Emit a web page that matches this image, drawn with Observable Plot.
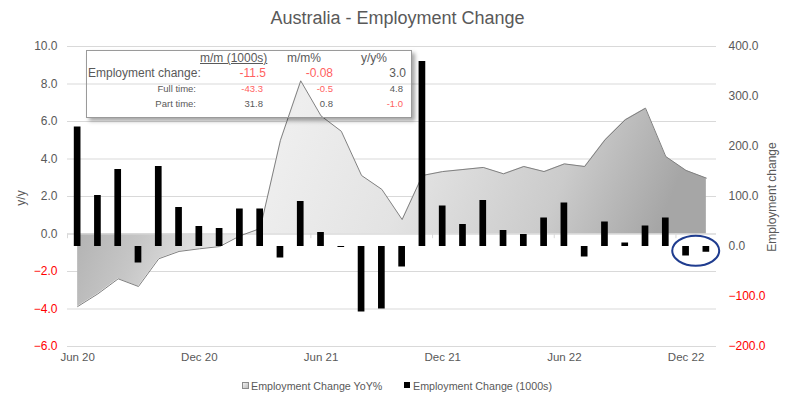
<!DOCTYPE html>
<html><head><meta charset="utf-8">
<script src="https://cdn.jsdelivr.net/npm/d3@7"></script>
<script src="https://cdn.jsdelivr.net/npm/@observablehq/plot@0.6"></script>
<style>
body{margin:0;background:#fff;}
#chart{position:relative;width:795px;height:405px;overflow:hidden;font-family:"Liberation Sans",Arial,sans-serif;color:#595959;background:#fff;}
#chart svg{position:absolute;left:0;top:0;}
.abs{position:absolute;white-space:nowrap;line-height:1;}
</style></head><body>
<div id="chart"></div>
<script>
// ---------- data ----------
const months = ["Jun 20","Jul 20","Aug 20","Sep 20","Oct 20","Nov 20","Dec 20","Jan 21","Feb 21","Mar 21","Apr 21","May 21","Jun 21","Jul 21","Aug 21","Sep 21","Oct 21","Nov 21","Dec 21","Jan 22","Feb 22","Mar 22","Apr 22","May 22","Jun 22","Jul 22","Aug 22","Sep 22","Oct 22","Nov 22","Dec 22","Jan 23"];
const yoyPct = [-3.87,-3.19,-2.39,-2.80,-1.32,-0.93,-0.79,-0.67,-0.10,0.29,5.0,8.17,6.3,5.48,3.12,2.38,0.77,3.12,3.33,3.44,3.55,3.21,3.6,3.33,3.74,3.6,5.02,6.09,6.71,4.13,3.39,2.98];
const empChange = [239,102,154,-33,160,78,40,36,75,75,-23,90,28,-2,-131,-125,-41,370,81,44,92,32,24,57,87,-21,49,7,41,57,-19,-11.5];
const xTickLabels = ["Jun 20","Dec 20","Jun 21","Dec 21","Jun 22","Dec 22"];
const leftTicksPos = [0,2,4,6,8,10];
const leftTicksNeg = [-2,-4,-6];
const rightTicksPos = [0,100,200,300,400];
const rightTicksNeg = [-100,-200];
const leftDomain = [-6,10];
const rightDomain = [-200,400];
const tableRows = ["Employment change:","Full time:","Part time:"];
const tableHeaders = ["m/m (1000s)","m/m%","y/y%"];
const tableMM = ["-11.5","-43.3","31.8"];
const tableMMPct = ["-0.08","-0.5","0.8"];
const tableYY = ["3.0","4.8","-1.0"];
const titleText = "Australia - Employment Change";
const leftTitle = "y/y";
const rightTitle = "Employment change";
const legendLabels = ["Employment Change YoY%","Employment Change (1000s)"];

// ---------- build ----------
const data = months.map((m,i)=>({i, month:m, yoy:yoyPct[i], chg:empChange[i]}));
const toLeft = d3.scaleLinear().domain(rightDomain).range(leftDomain);
const fmt = d3.format(".1f");
const GRAY = "#595959", RED = "#ff0000";
const FONT = '"Liberation Sans",Arial,sans-serif';

const plot = Plot.plot({
  width:795, height:405,
  marginTop:46, marginBottom:59, marginLeft:67, marginRight:79,
  x:{type:"linear", domain:[-0.5, months.length-0.5]},
  y:{domain:leftDomain},
  style:{background:"transparent", fontFamily:FONT, fontSize:"12px", color:GRAY},
  marks:[
    Plot.gridY(leftTicksPos.concat(leftTicksNeg), {stroke:"#d9d9d9", strokeOpacity:1}),
    Plot.areaY(data, {x:"i", y:"yoy", fill:"url(#yoyGrad)", fillOpacity:1}),
    Plot.ruleY([0], {stroke:"#d9d9d9", strokeOpacity:1}),
    Plot.ruleX(xTickLabels.map(l=>months.indexOf(l)-0.5), {y1:0, y2:-0.25, stroke:"#d9d9d9"}),
    Plot.lineY(data, {x:"i", y:"yoy", stroke:"#808080", strokeWidth:1}),
    Plot.rect(data, {x1:d=>d.i-0.5, x2:d=>d.i+0.5, y1:()=>toLeft(0), y2:d=>toLeft(d.chg), fill:"#000", insetLeft:6.8, insetRight:6.8}),
    Plot.axisX(xTickLabels.map(l=>months.indexOf(l)), {tickSize:0, tickPadding:6, tickFormat:i=>months[i], fontSize:11.5, fill:GRAY, label:null}),
    Plot.axisY(leftTicksPos, {anchor:"left", tickSize:0, tickPadding:10, tickFormat:fmt, fill:GRAY, fontSize:12, label:null}),
    Plot.axisY(leftTicksNeg, {anchor:"left", tickSize:0, tickPadding:10, tickFormat:fmt, fill:RED, fontSize:12, label:null}),
    Plot.axisY(rightTicksPos.map(v=>toLeft(v)), {anchor:"right", tickSize:0, tickPadding:12, tickFormat:d=>fmt(toLeft.invert(d)), fill:GRAY, fontSize:12, label:null}),
    Plot.axisY(rightTicksNeg.map(v=>toLeft(v)), {anchor:"right", tickSize:0, tickPadding:12, tickFormat:d=>fmt(toLeft.invert(d)), fill:RED, fontSize:12, label:null})
  ]
});

const svg = d3.select(plot);
const defs = svg.insert("defs", ":first-child");
const g = defs.append("linearGradient").attr("id","yoyGrad").attr("x1","0").attr("y1","0").attr("x2","1").attr("y2","0.15");
[["0%","#a0a0a0"],["20%","#c6c6c6"],["28%","#dcdcdc"],["36%","#eeeeee"],["58%","#e3e3e3"],["82%","#cbcbcb"],["100%","#a6a6a6"]]
  .forEach(([o,c])=>g.append("stop").attr("offset",o).attr("stop-color",c));

// annotation ellipse around the last two bars, placed through the plot's scales
const sx = plot.scale("x"), sy = plot.scale("y");
const lastTwo = empChange.slice(-2);
svg.append("ellipse")
  .attr("cx", (sx.apply(months.length-2)+sx.apply(months.length-1))/2)
  .attr("cy", sy.apply(toLeft(d3.min(lastTwo)/2)))
  .attr("rx", 23.5).attr("ry", 15)
  .attr("fill","none").attr("stroke","#1f3c8f").attr("stroke-width",2);

// axis titles
svg.append("text").attr("transform","translate(21,198) rotate(-90)")
  .attr("text-anchor","middle").attr("dominant-baseline","central")
  .attr("fill",GRAY).style("font-size","12px").style("font-family",FONT).text(leftTitle);
svg.append("text").attr("transform","translate(772,197) rotate(-90)")
  .attr("text-anchor","middle").attr("dominant-baseline","central")
  .attr("fill",GRAY).style("font-size","12px").style("font-family",FONT).text(rightTitle);

const chart = document.getElementById("chart");
chart.appendChild(plot);

function div(text, css){
  const d = document.createElement("div");
  d.className = "abs"; d.textContent = text; d.style.cssText += css;
  chart.appendChild(d); return d;
}
// title
div(titleText, `left:0;width:795px;text-align:center;top:9px;font-size:18px;color:${GRAY};`);

// table box
const box = document.createElement("div");
box.style.cssText = "position:absolute;left:86px;top:50px;width:324px;height:66px;border:1px solid #9a9a9a;box-shadow:3px 3px 4px rgba(0,0,0,0.35);background:transparent;";
chart.appendChild(box);
const TRED = "#ff5f5f";
const colorOf = s => s.trim().startsWith("-") ? TRED : GRAY;
const hdrLeft = [200,287,361];
tableHeaders.forEach((h,k)=>{
  const d = div(h, `left:${hdrLeft[k]}px;top:52px;font-size:12px;color:${GRAY};`);
  if(k===0) d.style.textDecoration = "underline";
});
const rowTop = [67,84,99];
const rowSize = [12,9.5,9.5];
const colRight = [[266,333,406],[263,333,403],[263,333,403]];
tableRows.forEach((r,k)=>{
  if(k===0) div(r, `left:88px;top:${rowTop[k]}px;font-size:${rowSize[k]}px;color:${GRAY};`);
  else div(r, `right:${795-196}px;top:${rowTop[k]}px;font-size:${rowSize[k]}px;color:${GRAY};`);
  [tableMM[k], tableMMPct[k], tableYY[k]].forEach((v,c)=>{
    div(v, `right:${795-colRight[k][c]}px;top:${rowTop[k]}px;font-size:${rowSize[k]}px;color:${colorOf(v)};`);
  });
});

// legend
const sq1 = document.createElement("div");
sq1.style.cssText = "position:absolute;left:242px;top:382px;width:5px;height:5px;border:1px solid #8c8c8c;background:linear-gradient(135deg,#f2f2f2,#bdbdbd);";
chart.appendChild(sq1);
div(legendLabels[0], `left:251px;top:381px;font-size:10.7px;color:${GRAY};`);
const sq2 = document.createElement("div");
sq2.style.cssText = "position:absolute;left:404px;top:382px;width:6px;height:6px;background:#000;";
chart.appendChild(sq2);
div(legendLabels[1], `left:413px;top:381px;font-size:10.7px;color:${GRAY};`);
</script>
</body></html>
